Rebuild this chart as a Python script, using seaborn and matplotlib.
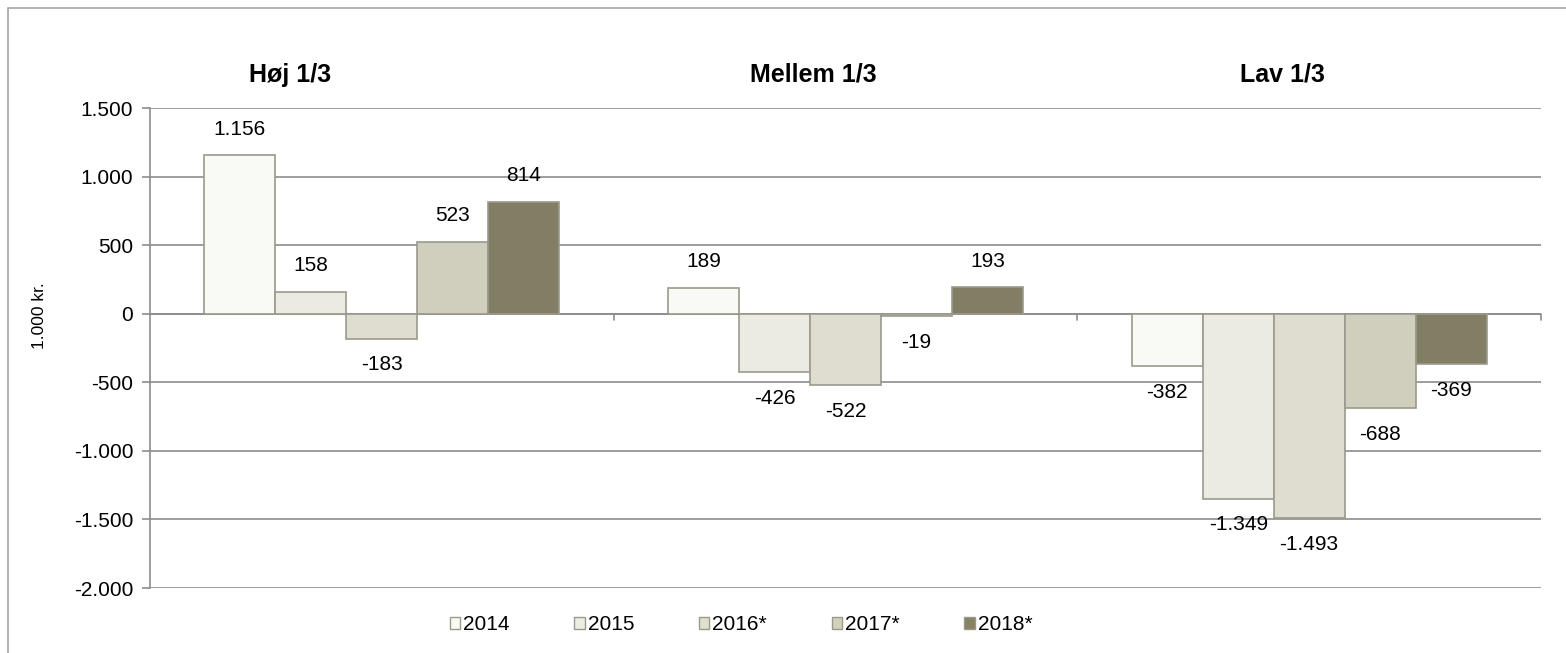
import matplotlib
matplotlib.use("Agg")
import matplotlib.pyplot as plt
import matplotlib.patches as mpatches
from matplotlib.ticker import FuncFormatter, MultipleLocator
import pandas as pd
import seaborn as sns

# data
GROUPS = ["Høj 1/3", "Mellem 1/3", "Lav 1/3"]
YEARS = ["2014", "2015", "2016*", "2017*", "2018*"]
VALUES = {
    "2014": [1156, 189, -382],
    "2015": [158, -426, -1349],
    "2016*": [-183, -522, -1493],
    "2017*": [523, -19, -688],
    "2018*": [814, 193, -369],
}
COLORS = ["#FAFAF4", "#EDECE2", "#E1DFCD", "#D3D1B9", "#878260"]
GRID = "#8C8C8C"

rows = []
for year in YEARS:
    for g, v in zip(GROUPS, VALUES[year]):
        rows.append({"group": g, "year": year, "value": v})
df = pd.DataFrame(rows)


def dk_num(v):
    s = f"{abs(int(round(v))):,}".replace(",", ".")
    return ("-" if v < 0 else "") + s


sns.set_style("white")
plt.rcParams["font.family"] = ["Liberation Sans", "DejaVu Sans"]
plt.rcParams["text.color"] = "black"
plt.rcParams["axes.labelcolor"] = "black"
plt.rcParams["ytick.labelcolor"] = "black"

W, H = 1566, 653
fig = plt.figure(figsize=(W / 100, H / 100), dpi=100)
ax = fig.add_axes([150 / W, 1 - 588 / H, (1541 - 150) / W, (588 - 108) / H])

sns.barplot(
    data=df, x="group", y="value", hue="year",
    order=GROUPS, hue_order=YEARS, palette=COLORS,
    width=0.765, edgecolor="#9A998C", linewidth=1.2,
    legend=False, ax=ax, zorder=3,
)

# data labels
for container, year in zip(ax.containers, YEARS):
    for bar, v in zip(container, VALUES[year]):
        off = 12 if v >= 0 else -12
        ax.annotate(dk_num(v), (bar.get_x() + bar.get_width() / 2, v),
                    xytext=(0, off), textcoords="offset points",
                    ha="center", va="bottom" if v >= 0 else "top",
                    fontsize=15, color="black", zorder=5)

ax.set_ylim(-2000, 1500)
ax.set_xlim(-0.5, 2.5)
ax.yaxis.set_major_locator(MultipleLocator(500))
ax.yaxis.set_major_formatter(FuncFormatter(lambda v, p: dk_num(v)))
ax.grid(True, axis="y", color=GRID, linewidth=1.2)
ax.set_axisbelow(True)
ax.tick_params(axis="y", labelsize=15, left=True, length=6, width=1.2,
               color=GRID, labelcolor="black", pad=6)
for s in ["top", "right", "bottom"]:
    ax.spines[s].set_visible(False)
ax.spines["left"].set_color(GRID)
ax.spines["left"].set_linewidth(1.2)

# category axis crossing at zero
ax.axhline(0, color=GRID, linewidth=1.2, zorder=2)
ax.set_xticks([])
for xb in [0.5, 1.5, 2.5]:
    ax.plot([xb, xb], [0, -45], color=GRID, linewidth=1.2,
            clip_on=False, zorder=2)

ax.set_xlabel("")
ax.set_ylabel("")
fig.text(40 / W, 1 - 316 / H, "1.000 kr.", rotation=90, ha="center",
         va="center", fontsize=12.5, color="black")

# group headings
heading_x = [290, 813, 1282]
for hx, g in zip(heading_x, GROUPS):
    fig.text(hx / W, 1 - 75 / H, g, ha="center", va="center",
             fontsize=18, fontweight="bold", color="black")

# legend
handles = [mpatches.Patch(facecolor=c, edgecolor="#9A998C", label=y)
           for c, y in zip(COLORS, YEARS)]
fig.legend(handles=handles, loc="center", bbox_to_anchor=(741 / W, 1 - 625 / H),
           ncol=5, frameon=False, fontsize=15, handlelength=0.5,
           handleheight=0.5, handletextpad=0.15, columnspacing=3.1,
           labelcolor="black")

# outer chart border
fig.patches.append(mpatches.Rectangle((8 / W, -0.05), 1.1, (H - 8) / H + 0.05,
                                      transform=fig.transFigure, fill=False,
                                      edgecolor="#A6A6A6", linewidth=1.2))

fig.savefig("out.png", dpi=100)
